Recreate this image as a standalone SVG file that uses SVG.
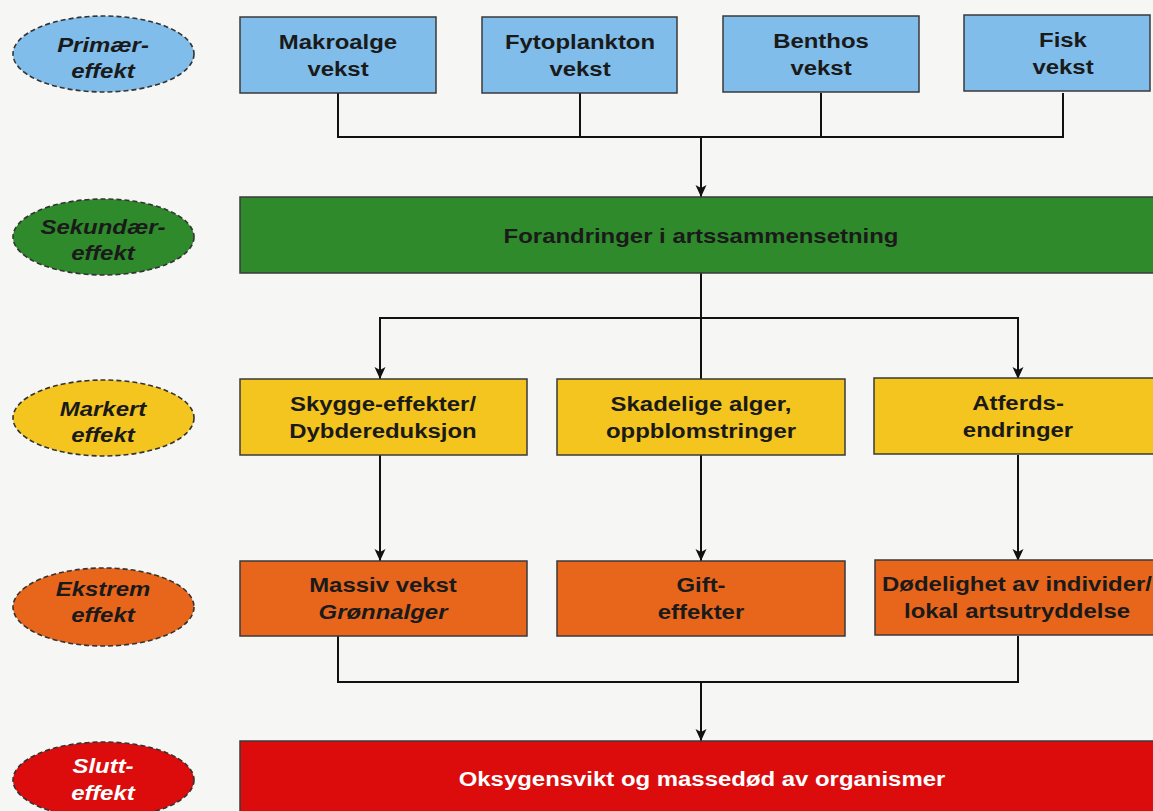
<svg xmlns="http://www.w3.org/2000/svg" width="1153" height="811" viewBox="0 0 1153 811">
<style>
.t{font-family:"Liberation Sans",Arial,sans-serif;font-weight:bold;font-size:21px;fill:#1a1a1a;text-anchor:middle}
.i{font-style:italic}
.w{fill:#ffffff}
.box{stroke:#3a3a3a;stroke-width:1.5}
.ell{stroke:#333333;stroke-width:1.6;stroke-dasharray:5 3}
.blue{fill:#80bdea}
.green{fill:#2f8a2c}
.yellow{fill:#f4c51f}
.orange{fill:#e7661c}
.red{fill:#dc0c0c}
.ln{fill:none;stroke:#111111;stroke-width:2}
</style>
<defs>
<marker id="arr" viewBox="0 0 12 12" refX="12" refY="6" markerWidth="12" markerHeight="12" markerUnits="userSpaceOnUse" orient="auto">
<path d="M0,0.5 L12,6 L0,11.5 L3,6 z" fill="#111111"/>
</marker>
</defs>
<rect x="0" y="0" width="1153" height="811" fill="#f6f6f5"/>

<!-- level labels -->
<g id="lbl-primaer">
<ellipse class="ell blue" cx="103.5" cy="54" rx="90.5" ry="38"/>
<text class="t i" transform="translate(103 0) scale(1.14 1)"><tspan x="0" y="52">Primær-</tspan><tspan x="0" y="78">effekt</tspan></text>
</g>
<g id="lbl-sekundaer">
<ellipse class="ell green" cx="103.5" cy="237" rx="90.5" ry="38"/>
<text class="t i" transform="translate(103 0) scale(1.14 1)"><tspan x="0" y="234">Sekundær-</tspan><tspan x="0" y="260">effekt</tspan></text>
</g>
<g id="lbl-markert">
<ellipse class="ell yellow" cx="103.5" cy="418" rx="90.5" ry="38"/>
<text class="t i" transform="translate(103 0) scale(1.14 1)"><tspan x="0" y="416">Markert</tspan><tspan x="0" y="442">effekt</tspan></text>
</g>
<g id="lbl-ekstrem">
<ellipse class="ell orange" cx="103.5" cy="607" rx="90.5" ry="39"/>
<text class="t i" transform="translate(103 0) scale(1.14 1)"><tspan x="0" y="596">Ekstrem</tspan><tspan x="0" y="622">effekt</tspan></text>
</g>
<g id="lbl-slutt">
<ellipse class="ell red" cx="103.5" cy="780" rx="90.5" ry="38"/>
<text class="t i w" transform="translate(103 0) scale(1.14 1)"><tspan x="0" y="773">Slutt-</tspan><tspan x="0" y="800">effekt</tspan></text>
</g>

<!-- connectors -->
<g id="connectors">
<path class="ln" d="M338,93 V137 M580,93 V137 M821,93 V137 M1063,93 V137 M337,137 H1064"/>
<path class="ln" d="M701,137 V197" marker-end="url(#arr)"/>
<path class="ln" d="M701,273 V379 M379,318 H1019"/>
<path class="ln" d="M380,318 V379" marker-end="url(#arr)"/>
<path class="ln" d="M1018,318 V379" marker-end="url(#arr)"/>
<path class="ln" d="M380,455 V561" marker-end="url(#arr)"/>
<path class="ln" d="M701,455 V561" marker-end="url(#arr)"/>
<path class="ln" d="M1018,455 V561" marker-end="url(#arr)"/>
<path class="ln" d="M338,636 V682 H1018 V636"/>
<path class="ln" d="M701,682 V741" marker-end="url(#arr)"/>
</g>

<!-- primary -->
<g id="makroalge">
<rect class="box blue" x="240" y="17" width="196" height="76"/>
<text class="t" transform="translate(338 0) scale(1.14 1)"><tspan x="0" y="49">Makroalge</tspan><tspan x="0" y="76">vekst</tspan></text>
</g>
<g id="fytoplankton">
<rect class="box blue" x="482" y="17" width="195" height="76"/>
<text class="t" transform="translate(580 0) scale(1.14 1)"><tspan x="0" y="49">Fytoplankton</tspan><tspan x="0" y="76">vekst</tspan></text>
</g>
<g id="benthos">
<rect class="box blue" x="723" y="16" width="196" height="76"/>
<text class="t" transform="translate(821 0) scale(1.14 1)"><tspan x="0" y="48">Benthos</tspan><tspan x="0" y="75">vekst</tspan></text>
</g>
<g id="fisk">
<rect class="box blue" x="964" y="15" width="186" height="76"/>
<text class="t" transform="translate(1063 0) scale(1.14 1)"><tspan x="0" y="47">Fisk</tspan><tspan x="0" y="74">vekst</tspan></text>
</g>

<!-- secondary -->
<g id="forandringer">
<rect class="box green" x="240" y="197" width="930" height="76"/>
<text class="t" transform="translate(701 0) scale(1.14 1)"><tspan x="0" y="243">Forandringer i artssammensetning</tspan></text>
</g>

<!-- marked -->
<g id="skygge">
<rect class="box yellow" x="240" y="379" width="287" height="76"/>
<text class="t" transform="translate(383 0) scale(1.14 1)"><tspan x="0" y="411">Skygge-effekter/</tspan><tspan x="0" y="438">Dybdereduksjon</tspan></text>
</g>
<g id="skadelige">
<rect class="box yellow" x="557" y="379" width="288" height="76"/>
<text class="t" transform="translate(701 0) scale(1.14 1)"><tspan x="0" y="411">Skadelige alger,</tspan><tspan x="0" y="438">oppblomstringer</tspan></text>
</g>
<g id="atferds">
<rect class="box yellow" x="874" y="378" width="290" height="76"/>
<text class="t" transform="translate(1018 0) scale(1.14 1)"><tspan x="0" y="410">Atferds-</tspan><tspan x="0" y="437">endringer</tspan></text>
</g>

<!-- extreme -->
<g id="massiv">
<rect class="box orange" x="240" y="561" width="287" height="75"/>
<text class="t" transform="translate(383 0) scale(1.14 1)"><tspan x="0" y="592">Massiv vekst</tspan><tspan x="0" y="619" font-style="italic">Grønnalger</tspan></text>
</g>
<g id="gift">
<rect class="box orange" x="557" y="561" width="288" height="75"/>
<text class="t" transform="translate(701 0) scale(1.14 1)"><tspan x="0" y="592">Gift-</tspan><tspan x="0" y="619">effekter</tspan></text>
</g>
<g id="dodelighet">
<rect class="box orange" x="875" y="560" width="290" height="75"/>
<text class="t" transform="translate(1017 0) scale(1.14 1)"><tspan x="0" y="591">Dødelighet av individer/</tspan><tspan x="0" y="618">lokal artsutryddelse</tspan></text>
</g>

<!-- final -->
<g id="oksygensvikt">
<rect class="box red" x="240" y="741" width="930" height="80"/>
<text class="t w" transform="translate(702 0) scale(1.14 1)"><tspan x="0" y="786">Oksygensvikt og massedød av organismer</tspan></text>
</g>
</svg>
